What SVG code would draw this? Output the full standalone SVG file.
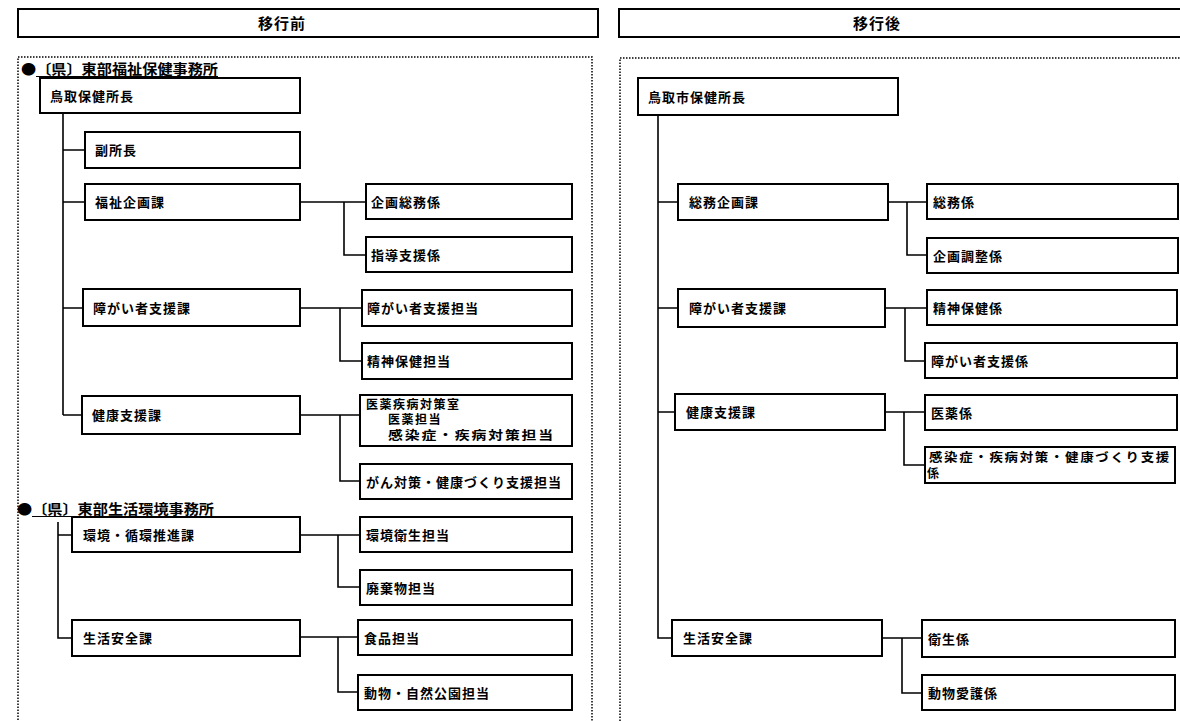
<svg xmlns="http://www.w3.org/2000/svg" width="1180" height="721" viewBox="0 0 1180 721">
<style>
.bx{fill:#fff;stroke:#000;stroke-width:2}
.hd{fill:#fff;stroke:#000;stroke-width:2}
.pn{fill:none;stroke:#000;stroke-width:1.5;stroke-dasharray:1.5 1.5}
.t{font-family:"Noto Sans CJK JP","Noto Sans CJK SC",sans-serif;font-weight:bold;font-size:13px;fill:#000;letter-spacing:1px}
.s{font-size:12px;letter-spacing:1.5px}
.h{font-size:15px;letter-spacing:1px}
.lb{font-size:14px;letter-spacing:0}
.c{fill:none;stroke:#000;stroke-width:1.6}
</style>
<rect width="1180" height="721" fill="#fff"/>
<g id="header-before"><rect class="hd" x="18" y="9" width="580" height="28"/><text class="t h" x="282" y="29" text-anchor="middle">移行前</text></g>
<g id="header-after"><rect class="hd" x="619" y="9" width="580" height="28"/><text class="t h" x="877" y="29" text-anchor="middle">移行後</text></g>
<g id="panel-before"><rect class="pn" x="18" y="57" width="574" height="680"/></g>
<g id="panel-after"><rect class="pn" x="620" y="58" width="580" height="680"/></g>
<g id="connectors">
<path class="c" d="M63,113V415M63,150H85M63,202H85M63,308H83M63,415H82"/>
<path class="c" d="M300,202H366M344,202V255H366"/>
<path class="c" d="M300,308H362M340,308V361H362"/>
<path class="c" d="M300,415H360M340,415V481H360"/>
<path class="c" d="M58,522V638H72M58,535H72"/>
<path class="c" d="M300,535H360M338,535V587H360"/>
<path class="c" d="M300,637H358M338,637V692H358"/>
<path class="c" d="M658,115V638H672M658,202H678M658,308H678M658,412H675"/>
<path class="c" d="M888,202H927M907,202V255H927"/>
<path class="c" d="M885,308H927M905,308V361H925"/>
<path class="c" d="M885,412H925M904,412V465H925"/>
<path class="c" d="M882,638H922M902,638V693H922"/>
</g>
<g id="label-fukushi"><text class="t lb" x="21" y="74" textLength="197" lengthAdjust="spacingAndGlyphs">●〔県〕東部福祉保健事務所</text><line x1="36" y1="76.5" x2="218" y2="76.5" stroke="#000" stroke-width="1.2"/></g>
<g id="label-seikatsu"><text class="t lb" x="17" y="514" textLength="197" lengthAdjust="spacingAndGlyphs">●〔県〕東部生活環境事務所</text><line x1="32" y1="516.5" x2="214" y2="516.5" stroke="#000" stroke-width="1.2"/></g>
<g id="n-chief-before"><rect class="bx" x="40" y="78" width="260" height="35"/><text class="t" x="50" y="101">鳥取保健所長</text></g>
<g id="n-fukusho"><rect class="bx" x="85" y="132" width="215" height="36"/><text class="t" x="95" y="155">副所長</text></g>
<g id="n-fukushi-kikaku"><rect class="bx" x="85" y="184" width="215" height="36"/><text class="t" x="95" y="207">福祉企画課</text></g>
<g id="n-kikaku-somu"><rect class="bx" x="366" y="184" width="206" height="35"/><text class="t" x="371" y="207">企画総務係</text></g>
<g id="n-shido"><rect class="bx" x="366" y="237" width="206" height="35"/><text class="t" x="371" y="260">指導支援係</text></g>
<g id="n-shogai-ka-before"><rect class="bx" x="83" y="289" width="217" height="37"/><text class="t" x="93" y="313">障がい者支援課</text></g>
<g id="n-shogai-tanto"><rect class="bx" x="362" y="290" width="210" height="36"/><text class="t" x="367" y="313">障がい者支援担当</text></g>
<g id="n-seishin-tanto"><rect class="bx" x="362" y="343" width="210" height="36"/><text class="t" x="367" y="366">精神保健担当</text></g>
<g id="n-kenko-ka-before"><rect class="bx" x="82" y="396" width="218" height="38"/><text class="t" x="92" y="420">健康支援課</text></g>
<g id="n-iyaku-shitsu"><rect class="bx" x="360" y="395" width="212" height="51"/><text class="t s" x="366" y="409">医薬疾病対策室</text><text class="t s" x="388" y="424">医薬担当</text><text class="t s" x="388" y="440" textLength="167" lengthAdjust="spacingAndGlyphs">感染症・疾病対策担当</text></g>
<g id="n-gan"><rect class="bx" x="360" y="464" width="212" height="35"/><text class="t" x="366" y="487">がん対策・健康づくり支援担当</text></g>
<g id="n-kankyo-ka"><rect class="bx" x="72" y="517" width="228" height="35"/><text class="t" x="83" y="540">環境・循環推進課</text></g>
<g id="n-kankyo-eisei"><rect class="bx" x="360" y="517" width="212" height="35"/><text class="t" x="366" y="540">環境衛生担当</text></g>
<g id="n-haikibutsu"><rect class="bx" x="360" y="570" width="212" height="35"/><text class="t" x="366" y="593">廃棄物担当</text></g>
<g id="n-seikatsu-before"><rect class="bx" x="72" y="620" width="228" height="36"/><text class="t" x="83" y="643">生活安全課</text></g>
<g id="n-shokuhin"><rect class="bx" x="358" y="620" width="214" height="35"/><text class="t" x="364" y="643">食品担当</text></g>
<g id="n-dobutsu-shizen"><rect class="bx" x="358" y="675" width="214" height="35"/><text class="t" x="364" y="698">動物・自然公園担当</text></g>
<g id="n-chief-after"><rect class="bx" x="638" y="78" width="260" height="37"/><text class="t" x="648" y="102">鳥取市保健所長</text></g>
<g id="n-somu-kikaku"><rect class="bx" x="678" y="184" width="210" height="36"/><text class="t" x="689" y="207">総務企画課</text></g>
<g id="n-somu"><rect class="bx" x="927" y="184" width="251" height="35"/><text class="t" x="933" y="207">総務係</text></g>
<g id="n-kikaku-chosei"><rect class="bx" x="927" y="238" width="251" height="35"/><text class="t" x="933" y="261">企画調整係</text></g>
<g id="n-shogai-ka-after"><rect class="bx" x="678" y="289" width="207" height="38"/><text class="t" x="689" y="313">障がい者支援課</text></g>
<g id="n-seishin-kakari"><rect class="bx" x="927" y="290" width="250" height="35"/><text class="t" x="933" y="313">精神保健係</text></g>
<g id="n-shogai-kakari"><rect class="bx" x="925" y="343" width="252" height="35"/><text class="t" x="931" y="366">障がい者支援係</text></g>
<g id="n-kenko-ka-after"><rect class="bx" x="675" y="394" width="210" height="36"/><text class="t" x="686" y="417">健康支援課</text></g>
<g id="n-iyaku-kakari"><rect class="bx" x="925" y="395" width="252" height="35"/><text class="t" x="931" y="418">医薬係</text></g>
<g id="n-kansen"><rect class="bx" x="925" y="447" width="250" height="36"/><text class="t s" x="929" y="462" textLength="242" lengthAdjust="spacingAndGlyphs">感染症・疾病対策・健康づくり支援</text><text class="t s" x="927" y="478">係</text></g>
<g id="n-seikatsu-after"><rect class="bx" x="672" y="620" width="210" height="36"/><text class="t" x="683" y="643">生活安全課</text></g>
<g id="n-eisei"><rect class="bx" x="922" y="620" width="253" height="37"/><text class="t" x="928" y="644">衛生係</text></g>
<g id="n-dobutsu-aigo"><rect class="bx" x="922" y="675" width="253" height="35"/><text class="t" x="928" y="698">動物愛護係</text></g>
</svg>
